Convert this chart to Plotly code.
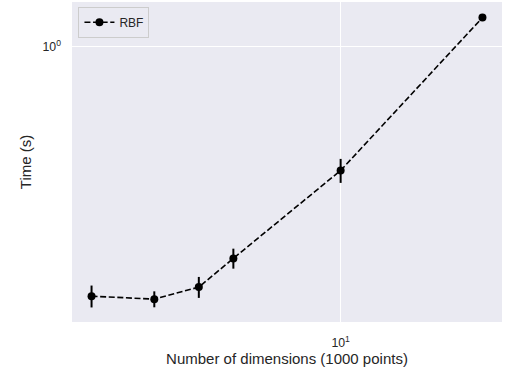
import numpy as np
import plotly.graph_objects as go

# Data
dims = [2, 3, 4, 5, 10, 25]
times = [0.2506, 0.2465, 0.2635, 0.309, 0.503, 1.174]
errs = [0.0152, 0.0109, 0.0153, 0.0171, 0.0334, 0.007]
series_name = "RBF"

fig = go.Figure()
fig.add_trace(go.Scatter(
    x=dims, y=times, name=series_name, mode="lines+markers",
    line=dict(color="black", width=1.6, dash="6px,2.6px"),
    marker=dict(color="black", size=8),
    error_y=dict(type="data", array=errs, visible=True, color="black", thickness=2, width=0),
))

lx = np.log10(dims)
ylo = np.log10(np.array(times) - np.array(errs))
yhi = np.log10(np.array(times) + np.array(errs))
xm = 0.05 * (lx.max() - lx.min())
ymn, ymx = ylo.min(), yhi.max()
ym = 0.05 * (ymx - ymn)

font = dict(family="Liberation Sans, Arial, sans-serif", size=12.3, color="#262626")
fig.update_layout(
    width=508, height=381,
    margin=dict(l=72, r=6, t=2, b=59),
    paper_bgcolor="white", plot_bgcolor="#EAEAF2",
    font=font,
    showlegend=True,
    legend=dict(x=0.015, y=0.985, xanchor="left", yanchor="top",
                bgcolor="#EAEAF2", bordercolor="#CCCCCC", borderwidth=1,
                font=dict(size=12), itemwidth=30, tracegroupgap=0),
    xaxis=dict(type="log", range=[lx.min() - xm, lx.max() + xm],
               tickvals=[10], ticktext=["10<sup>1</sup>"],
               showgrid=True, gridcolor="white", gridwidth=1, zeroline=False,
               showline=False, ticks="", ticklen=0, ticklabelstandoff=12,
               title=dict(text="Number of dimensions (1000 points)", standoff=4)),
    yaxis=dict(type="log", range=[ymn - ym, ymx + ym],
               tickvals=[1], ticktext=["10<sup>0</sup>"],
               showgrid=True, gridcolor="white", gridwidth=1, zeroline=False,
               showline=False, ticks="", ticklen=0, ticklabelstandoff=10,
               title=dict(text="Time (s)", standoff=7)),
)

fig.write_html("out.html")
